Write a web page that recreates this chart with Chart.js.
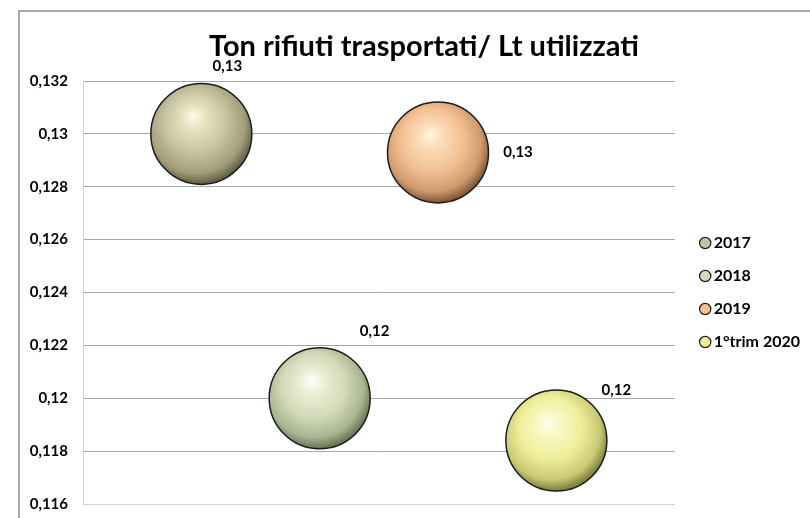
<!DOCTYPE html>
<html>
<head>
<meta charset="utf-8">
<script src="https://cdn.jsdelivr.net/npm/chart.js@4.4.1/dist/chart.umd.min.js"></script>
<style>
  html, body { margin: 0; padding: 0; background: #ffffff; }
  #wrap { position: relative; width: 810px; height: 518px; }
</style>
</head>
<body>
<div id="wrap"><canvas id="chart" width="810" height="518"></canvas></div>
<script>
// Tonnes of waste transported per litre of fuel used
const categories = ['2017', '2018', '2019', '1°trim 2020'];
const ratios = [0.1300, 0.1200, 0.1293, 0.1184];

// value axis
const yMin = 0.116;
const yMax = 0.132;
const yStep = 0.002;

const chartTitle = 'Ton rifiuti trasportati/ Lt utilizzati';

const FONT = "Lato, 'Open Sans', 'Liberation Sans', sans-serif";
const BUBBLE_R = 50.5;

// sphere shading for each year: highlight -> body -> rim
const shades = [
  { hi: '#fffce6', light: '#e6e1c0', body: '#c7c29e', dark: '#a39e7a', rim: '#4d4a33' },
  { hi: '#ffffff', light: '#e9efd6', body: '#d2dab8', dark: '#aab392', rim: '#57603f' },
  { hi: '#fff6e0', light: '#fcdcb8', body: '#f2c092', dark: '#cf9a6c', rim: '#6a4326' },
  { hi: '#ffffee', light: '#f8f8c4', body: '#eeee9a', dark: '#c9c974', rim: '#66662c' }
];

// where each value label sits relative to its bubble centre
const labelOffsets = [[26, -68], [55, -67], [80, 0], [60, -50]];

function sphereFill(ctx) {
  const s = shades[ctx.datasetIndex];
  const chart = ctx.chart;
  if (ctx.type !== 'data' || !ctx.parsed || !chart.chartArea) return s.body;
  const cx = chart.scales.x.getPixelForValue(ctx.parsed.x);
  const cy = chart.scales.y.getPixelForValue(ctx.parsed.y);
  const r = BUBBLE_R;
  const g = chart.ctx.createRadialGradient(cx - 0.16 * r, cy - 0.36 * r, 0,
                                          cx - 0.08 * r, cy - 0.14 * r, 1.2 * r);
  g.addColorStop(0, s.hi);
  g.addColorStop(0.2, s.light);
  g.addColorStop(0.52, s.body);
  g.addColorStop(0.8, s.dark);
  g.addColorStop(1, s.rim);
  return g;
}

const fmtTick = v => String(+Number(v).toFixed(3)).replace('.', ',');
const fmtLabel = v => Number(v).toFixed(2).replace('.', ',');

// chart heading, centred over the plot and legend
const heading = {
  id: 'heading',
  afterDraw(chart) {
    const c = chart.ctx;
    c.save();
    c.font = "bold 29px " + FONT;
    c.fillStyle = '#000000';
    c.textAlign = 'center';
    c.textBaseline = 'middle';
    c.fillText(chartTitle, 424, 47);
    c.restore();
  }
};

// value labels next to each bubble
const valueLabels = {
  id: 'valueLabels',
  afterDatasetsDraw(chart) {
    const c = chart.ctx;
    c.save();
    c.font = "bold 15px " + FONT;
    c.fillStyle = '#000000';
    c.textAlign = 'center';
    c.textBaseline = 'middle';
    chart.data.datasets.forEach((ds, i) => {
      const meta = chart.getDatasetMeta(i);
      meta.data.forEach((pt, j) => {
        const off = labelOffsets[i];
        c.fillText(fmtLabel(ds.data[j].y), pt.x + off[0], pt.y + off[1]);
      });
    });
    c.restore();
  }
};

// thin grey frame along the top and left edges
const frame = {
  id: 'frame',
  beforeDraw(chart) {
    const c = chart.ctx;
    c.save();
    c.strokeStyle = '#8c8c8c';
    c.lineWidth = 1.5;
    c.beginPath();
    c.moveTo(19, 518);
    c.lineTo(19, 11);
    c.lineTo(810, 11);
    c.stroke();
    c.restore();
  }
};

const datasets = categories.map((name, i) => ({
  label: name,
  data: [{ x: i + 1, y: ratios[i] }],
  radius: BUBBLE_R,
  backgroundColor: sphereFill,
  borderColor: '#1c1c1c',
  borderWidth: 1.5,
  clip: false
}));

new Chart(document.getElementById('chart'), {
  type: 'bubble',
  data: { datasets },
  plugins: [frame, valueLabels, heading],
  options: {
    responsive: false,
    animation: false,
    events: [],
    layout: { autoPadding: false, padding: { left: 18, right: 0, top: 81, bottom: 14 } },
    scales: {
      x: {
        type: 'linear',
        min: 0,
        max: 5,
        display: false
      },
      y: {
        min: yMin,
        max: yMax,
        afterFit: s => { s.width = 65; },
        ticks: {
          stepSize: yStep,
          padding: 4,
          color: '#000000',
          font: { family: FONT, size: 15, weight: 'bold' },
          callback: v => fmtTick(v)
        },
        grid: {
          drawTicks: true,
          tickLength: 11,
          tickColor: 'rgba(0,0,0,0)',
          color: c => (Math.abs(c.tick.value - yMin) < 1e-9 ? '#d0d0d0' : '#a6a6a6'),
          lineWidth: 1
        },
        border: { display: true, color: '#d0d0d0', width: 1 }
      },
      gap: {
        position: 'right',
        display: true,
        afterFit: s => { s.width = 13; },
        ticks: { display: false },
        grid: { display: false },
        border: { display: false }
      }
    },
    plugins: {
      tooltip: { enabled: false },
      title: { display: false },
      legend: {
        position: 'right',
        align: 'center',
        fullSize: false,
        maxWidth: 123,
        labels: {
          usePointStyle: true,
          boxWidth: 1,
          boxHeight: 8,
          padding: 17,
          color: '#000000',
          font: { family: FONT, size: 16, weight: 'bold' },
          generateLabels: chart => chart.data.datasets.map((ds, i) => ({
            text: ds.label,
            fillStyle: shades[i].body,
            strokeStyle: '#1c1c1c',
            lineWidth: 1.2,
            pointStyle: 'circle',
            datasetIndex: i,
            hidden: false
          }))
        }
      }
    }
  }
});
</script>
</body>
</html>
